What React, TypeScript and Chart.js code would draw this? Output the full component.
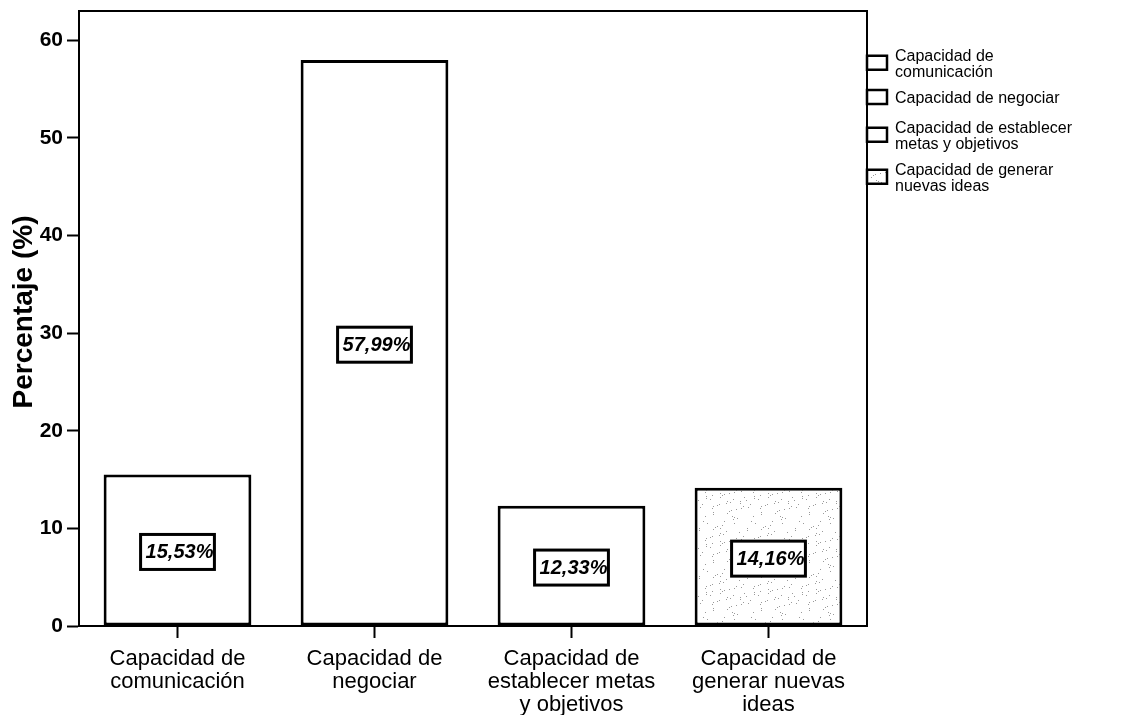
import React, { useEffect, useRef } from "react";
import { Chart, registerables } from "chart.js";

Chart.register(...registerables);

const categories: string[][] = [
  ["Capacidad de", "comunicación"],
  ["Capacidad de", "negociar"],
  ["Capacidad de", "establecer metas", "y objetivos"],
  ["Capacidad de", "generar nuevas", "ideas"],
];
const values: number[] = [15.53, 57.99, 12.33, 14.16];
const legendLabels: string[][] = [
  ["Capacidad de", "comunicación"],
  ["Capacidad de negociar"],
  ["Capacidad de establecer", "metas y objetivos"],
  ["Capacidad de generar", "nuevas ideas"],
];
const yTitle = "Percentaje (%)";
const yMax = 63;
const yStep = 10;

const FONT = "Arial, 'Liberation Sans', sans-serif";

function makeStipple(): CanvasPattern | string {
  const c = document.createElement("canvas");
  c.width = 48;
  c.height = 48;
  const g = c.getContext("2d");
  if (!g) return "#f0f0f0";
  g.fillStyle = "#ffffff";
  g.fillRect(0, 0, 48, 48);
  g.fillStyle = "#9a9a9a";
  for (let i = 0; i < 60; i++) {
    const x = (i * 29 + (i * i) % 13) % 48;
    const y = (i * 17 + (i * 7) % 11) % 48;
    g.fillRect(x, y, 1, 1);
  }
  return g.createPattern(c, "repeat") || "#f0f0f0";
}

export default function App() {
  const ref = useRef<HTMLCanvasElement | null>(null);

  useEffect(() => {
    document.body.style.margin = "0";
    const canvas = ref.current;
    if (!canvas) return;
    const stipple = makeStipple();

    const framePlugin = {
      id: "frame",
      afterDraw(chart: any) {
        const { ctx, chartArea } = chart;
        ctx.save();
        ctx.strokeStyle = "#000";
        ctx.lineWidth = 2;
        ctx.strokeRect(chartArea.left, chartArea.top, chartArea.right - chartArea.left, chartArea.bottom - chartArea.top);
        // y title
        ctx.save();
        ctx.translate(24, 312);
        ctx.rotate(-Math.PI / 2);
        ctx.font = "bold 28px " + FONT;
        ctx.textAlign = "center";
        ctx.textBaseline = "middle";
        ctx.fillStyle = "#000";
        ctx.fillText(yTitle, 0, 0);
        ctx.restore();
        // legend
        ctx.font = "16px " + FONT;
        ctx.textBaseline = "middle";
        ctx.textAlign = "left";
        ctx.fillStyle = "#000";
        const lineStarts = [57, 99, 129, 171];
        const lh = 15.5;
        legendLabels.forEach((lines, i) => {
          const y0 = lineStarts[i];
          lines.forEach((ln, j) => ctx.fillText(ln, 895, y0 + j * lh));
          const mid = y0 + ((lines.length - 1) * lh) / 2 - 2;
          ctx.lineWidth = 2.5;
          ctx.fillStyle = i === 3 ? stipple : "#fff";
          ctx.fillRect(chartArea.right, mid - 7, 20, 14);
          ctx.strokeRect(chartArea.right, mid - 7, 20, 14);
          ctx.fillStyle = "#000";
        });
        ctx.restore();
      },
      afterDatasetsDraw(chart: any) {
        const { ctx } = chart;
        const meta = chart.getDatasetMeta(0);
        ctx.save();
        ctx.font = "italic bold 20px " + FONT;
        ctx.textBaseline = "middle";
        ctx.textAlign = "center";
        meta.data.forEach((bar: any, i: number) => {
          const txt = values[i].toFixed(2).replace(".", ",") + "%";
          const w = ctx.measureText(txt).width;
          const cx = bar.x;
          const cy = (bar.y + bar.base) / 2 + 2;
          const bw = w + 6;
          const bh = 35;
          ctx.fillStyle = "#fff";
          ctx.fillRect(cx - bw / 2, cy - bh / 2, bw, bh);
          ctx.lineWidth = 3;
          ctx.strokeStyle = "#000";
          ctx.strokeRect(cx - bw / 2, cy - bh / 2, bw, bh);
          ctx.fillStyle = "#000";
          ctx.fillText(txt, cx + 2, cy + 1);
        });
        ctx.restore();
      },
    };

    const chart = new Chart(canvas, {
      type: "bar",
      data: {
        labels: categories,
        datasets: [
          {
            data: values,
            backgroundColor: ["#fff", "#fff", "#fff", stipple as any],
            borderColor: "#000",
            borderWidth: 3,
            borderSkipped: false,
            categoryPercentage: 1,
            barPercentage: 0.75,
          },
        ],
      },
      options: {
        responsive: false,
        animation: false,
        devicePixelRatio: 1,
        layout: { padding: { left: 0, right: 260, top: 11, bottom: 0 } },
        plugins: { legend: { display: false }, tooltip: { enabled: false } },
        scales: {
          x: {
            offset: true,
            grid: {
              offset: false,
              drawOnChartArea: false,
              drawTicks: true,
              tickLength: 12,
              tickWidth: 2,
              tickColor: "#000",
            },
            border: { color: "#000", width: 2 },
            ticks: {
              color: "#000",
              padding: 9,
              maxRotation: 0,
              autoSkip: false,
              font: { family: FONT, size: 22, lineHeight: 1.05 },
            },
            afterFit: (s: any) => {
              s.height = 89;
              s.paddingLeft = 0;
              s.paddingRight = 0;
            },
          },
          y: {
            min: 0,
            max: yMax,
            grid: {
              drawOnChartArea: false,
              tickLength: 12,
              tickWidth: 2,
              tickColor: "#000",
            },
            border: { color: "#000", width: 2 },
            ticks: {
              stepSize: yStep,
              color: "#000",
              padding: 4,
              font: { family: FONT, size: 21, weight: "bold" },
            },
            afterBuildTicks: (s: any) => {
              s.ticks = s.ticks.filter((t: any) => t.value % yStep === 0);
            },
            title: { display: false },
            afterFit: (s: any) => {
              s.width = 79;
              s.paddingTop = 0;
              s.paddingBottom = 0;
            },
          },
        },
      },
      plugins: [framePlugin],
    });
    return () => chart.destroy();
  }, []);

  return (
    <div style={{ width: 1127, height: 715 }}>
      <canvas ref={ref} width={1127} height={715} style={{ display: "block" }} />
    </div>
  );
}
